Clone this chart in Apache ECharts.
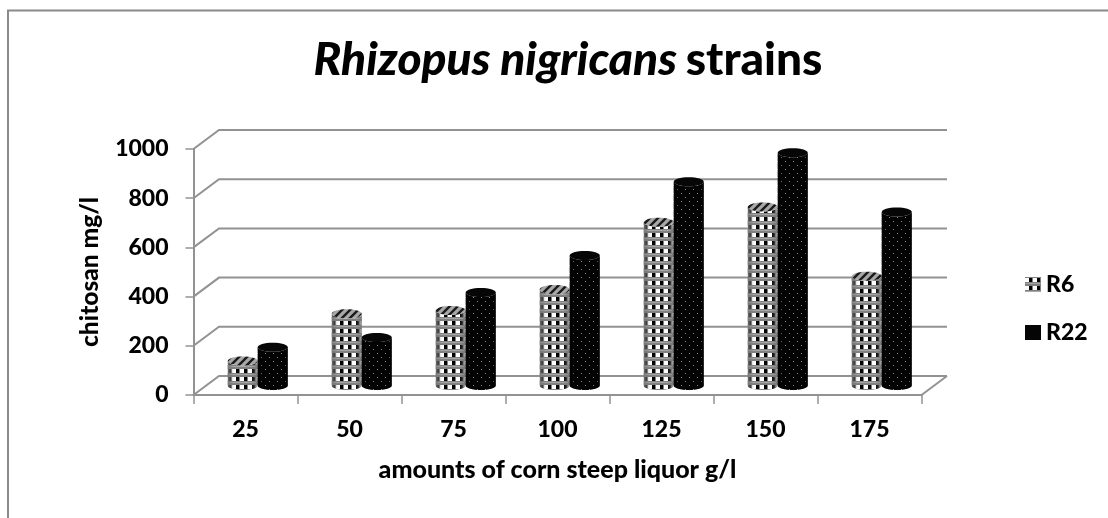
<!DOCTYPE html>
<html>
<head>
<meta charset="utf-8">
<style>html,body{margin:0;padding:0;background:#fff}#c{width:1108px;height:518px}</style>
<script src="https://cdn.jsdelivr.net/npm/echarts@6/dist/echarts.min.js"></script>
</head>
<body>
<div id="c"></div>
<script>
var categories = ['25','50','75','100','125','150','175'];
var r6Values = [100,292,305,390,664,726,444];
var r22Values = [155,195,378,528,828,946,705];
var yTicks = [0,200,400,600,800,1000];

var FONT = 'Lato, "Open Sans", sans-serif';
var LINE = '#929292';
var DEPTH_X = 25.5, DEPTH_Y = -19;
var BAR_W = 30, RY = 4.5;
var K = 0.5523;

function tile(w, h, draw) {
  var c = document.createElement('canvas');
  c.width = w; c.height = h;
  draw(c.getContext('2d'));
  return { image: c, repeat: 'repeat' };
}
var r6Body = tile(8, 8, function (g) {
  g.fillStyle = '#808080'; g.fillRect(0, 0, 8, 8);
  g.fillStyle = '#ffffff'; g.fillRect(0, 1, 4, 4);
  g.fillStyle = '#000000'; g.fillRect(4, 1, 3, 4);
  g.fillStyle = '#a6a6a6'; g.fillRect(0, 6, 8, 1);
});
var r6Top = tile(8, 8, function (g) {
  g.fillStyle = '#a8a8a8'; g.fillRect(0, 0, 8, 8);
  g.strokeStyle = '#1a1a1a'; g.lineWidth = 2.4;
  g.beginPath();
  g.moveTo(-2, 6); g.lineTo(6, -2);
  g.moveTo(2, 10); g.lineTo(10, 2);
  g.stroke();
});
var r22Body = tile(8, 8, function (g) {
  g.fillStyle = '#030303'; g.fillRect(0, 0, 8, 8);
  g.fillStyle = '#8a8a8a'; g.fillRect(1, 1, 1, 1); g.fillRect(5, 5, 1, 1);
});
var r22Top = '#060606';

echarts.graphic.registerShape('cylinderBody', echarts.graphic.extendShape({
  shape: { cx: 0, yBase: 0, yTop: 0, rx: 10, ry: 4 },
  buildPath: function (ctx, s) {
    var l = s.cx - s.rx, r = s.cx + s.rx;
    ctx.moveTo(l, s.yTop);
    ctx.lineTo(l, s.yBase);
    ctx.bezierCurveTo(l, s.yBase + K * s.ry, s.cx - K * s.rx, s.yBase + s.ry, s.cx, s.yBase + s.ry);
    ctx.bezierCurveTo(s.cx + K * s.rx, s.yBase + s.ry, r, s.yBase + K * s.ry, r, s.yBase);
    ctx.lineTo(r, s.yTop);
    ctx.bezierCurveTo(r, s.yTop + K * s.ry, s.cx + K * s.rx, s.yTop + s.ry, s.cx, s.yTop + s.ry);
    ctx.bezierCurveTo(s.cx - K * s.rx, s.yTop + s.ry, l, s.yTop + K * s.ry, l, s.yTop);
    ctx.closePath();
  }
}));

function cylinder(side, body, top, edge, clear) {
  return function (params, api) {
    var p = api.coord([api.value(0), api.value(1)]);
    var b = api.coord([api.value(0), 0]);
    var cx = p[0] + DEPTH_X / 2 + side * BAR_W / 2 - 0.5;
    var yTop = p[1] + DEPTH_Y / 2;
    var yBase = b[1] + DEPTH_Y / 2;
    var shape = { cx: cx, yBase: yBase, yTop: yTop, rx: BAR_W / 2, ry: RY };
    return {
      type: 'group',
      children: [
        { type: 'cylinderBody', shape: shape, style: { fill: body } },
        { type: 'cylinderBody', shape: shape, style: { fill: {
            type: 'linear', x: 0, y: 0, x2: 1, y2: 0,
            colorStops: [
              { offset: 0, color: edge },
              { offset: 0.2, color: clear },
              { offset: 0.8, color: clear },
              { offset: 1, color: edge }
            ] } } },
        { type: 'ellipse', shape: { cx: cx, cy: yTop, rx: BAR_W / 2, ry: RY }, style: { fill: top } }
      ]
    };
  };
}

function wall(params, api) {
  var cs = params.coordSys;
  var v = api.value(0);
  var y = api.coord([0, v])[1];
  var x0 = cs.x, x1 = cs.x + cs.width;
  var children = [{
    type: 'polyline',
    shape: { points: [[x0, y], [x0 + DEPTH_X, y + DEPTH_Y], [x1 + DEPTH_X, y + DEPTH_Y]] },
    style: { fill: 'none', stroke: LINE, lineWidth: 2 }
  }];
  if (v === 0) {
    children.push({
      type: 'line',
      shape: { x1: x1, y1: y, x2: x1 + DEPTH_X, y2: y + DEPTH_Y },
      style: { stroke: LINE, lineWidth: 2 }
    });
  }
  return { type: 'group', children: children };
}

var labelStyle = { color: '#000', fontFamily: FONT, fontWeight: 900, fontSize: 23 };
var chart = echarts.init(document.getElementById('c'), null, { renderer: 'canvas' });
chart.setOption({
  animation: false,
  backgroundColor: '#ffffff',
  graphic: [{
    type: 'polyline', silent: true,
    shape: { points: [[8, 518], [8, 10.5], [1108, 10.5]] },
    style: { fill: 'none', stroke: '#8a8a8a', lineWidth: 2 }
  }],
  title: {
    left: 563, top: 32, textAlign: 'center',
    text: '{i|Rhizopus nigricans} {s| }{b|strains}',
    textStyle: {
      rich: {
        i: { fontFamily: FONT, fontStyle: 'italic', fontWeight: 900, fontSize: 46, color: '#000' },
        s: { fontFamily: FONT, fontWeight: 900, fontSize: 16, color: '#000' },
        b: { fontFamily: FONT, fontWeight: 900, fontSize: 46, color: '#000' }
      }
    }
  },
  legend: {
    orient: 'vertical', left: 1020, top: 268, itemWidth: 16, itemHeight: 15, itemGap: 25,
    icon: 'rect', data: ['R6', 'R22'],
    textStyle: { color: '#000', fontFamily: FONT, fontWeight: 900, fontSize: 23 }
  },
  grid: { left: 193.5, right: 186.5, top: 149, bottom: 123 },
  xAxis: {
    type: 'category', data: categories,
    name: 'amounts of corn steep liquor g/l', nameLocation: 'middle', nameGap: 62,
    nameTextStyle: { color: '#000', fontFamily: FONT, fontWeight: 900, fontSize: 25 },
    axisLine: { lineStyle: { color: LINE, width: 2 } },
    axisTick: { show: true, alignWithLabel: false, length: 9, lineStyle: { color: LINE, width: 1.5 } },
    axisLabel: Object.assign({ margin: 23 }, labelStyle)
  },
  yAxis: {
    type: 'value', min: 0, max: 1000, interval: 200,
    name: 'chitosan mg/l', nameLocation: 'middle', nameGap: 91,
    nameTextStyle: { color: '#000', fontFamily: FONT, fontWeight: 900, fontSize: 24.5 },
    axisLine: { show: true, lineStyle: { color: LINE, width: 2 } },
    axisTick: { show: true, length: 8, lineStyle: { color: LINE, width: 1.5 } },
    splitLine: { show: false },
    axisLabel: Object.assign({ margin: 25, formatter: function (v) { return String(v); } }, labelStyle)
  },
  series: [
    { type: 'custom', name: 'walls', silent: true, clip: false, z: 1,
      encode: { y: 0 }, data: yTicks.map(function (v) { return [v]; }), renderItem: wall },
    { type: 'custom', name: 'R6', clip: false, z: 2, itemStyle: { color: r6Body },
      data: r6Values.map(function (v, i) { return [i, v]; }),
      encode: { x: 0, y: 1 }, renderItem: cylinder(-1, r6Body, r6Top, 'rgba(120,120,120,0.95)', 'rgba(120,120,120,0)') },
    { type: 'custom', name: 'R22', clip: false, z: 3, itemStyle: { color: '#050505' },
      data: r22Values.map(function (v, i) { return [i, v]; }),
      encode: { x: 0, y: 1 }, renderItem: cylinder(1, r22Body, r22Top, 'rgba(0,0,0,0.6)', 'rgba(0,0,0,0)') }
  ]
});
</script>
</body>
</html>
